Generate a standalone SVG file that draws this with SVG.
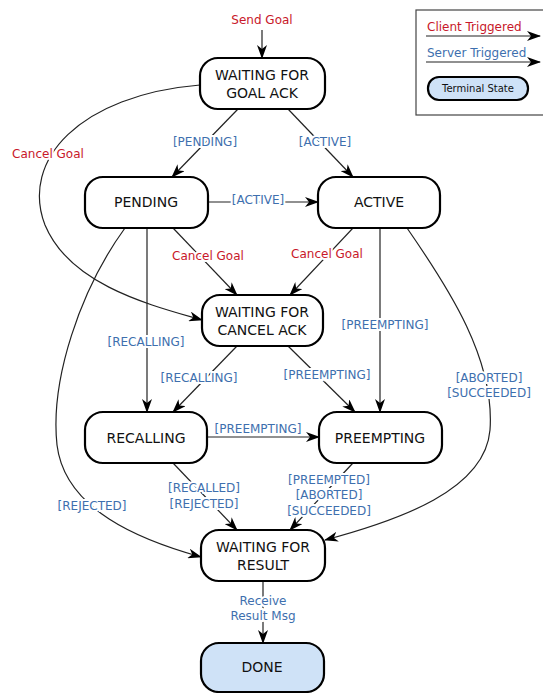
<svg xmlns="http://www.w3.org/2000/svg" width="543" height="693" viewBox="0 0 543 693">
<style>
.node{fill:#fff;stroke:#000;stroke-width:2.2}
.term{fill:#cfe2f7;stroke:#000;stroke-width:2.2}
.nt{font-family:"DejaVu Sans",sans-serif;font-size:14px;fill:#111;text-anchor:middle}
.e{fill:none;stroke:#222;stroke-width:1.2;marker-end:url(#ah)}
.cl{font-family:"DejaVu Sans",sans-serif;font-size:12px;fill:#c8182a;text-anchor:middle;stroke:#fff;stroke-width:4;paint-order:stroke}
.sl{font-family:"DejaVu Sans",sans-serif;font-size:12px;fill:#3e6fae;text-anchor:middle;stroke:#fff;stroke-width:4;paint-order:stroke}
</style>
<defs>
<marker id="ah" viewBox="0 0 14 10" refX="13" refY="5" markerWidth="14" markerHeight="10" markerUnits="userSpaceOnUse" orient="auto">
<path d="M0,0 L14,5 L0,10 L4,5 z" fill="#000"/>
</marker>
</defs>
<rect width="543" height="693" fill="#fff"/>
<g id="legend">
<rect x="416" y="10" width="140" height="105" fill="#fff" stroke="#444" stroke-width="1.2"/>
<text x="427" y="31" font-family="DejaVu Sans,sans-serif" font-size="12" fill="#c8182a">Client Triggered</text>
<line x1="426" y1="36" x2="540" y2="36" class="e"/>
<text x="427" y="57" font-family="DejaVu Sans,sans-serif" font-size="12" fill="#3e6fae">Server Triggered</text>
<line x1="426" y1="62" x2="540" y2="62" class="e"/>
<rect x="428" y="77" width="100" height="23" rx="11" class="term" stroke-width="1.2"/>
<text x="478" y="92" font-family="DejaVu Sans,sans-serif" font-size="10" fill="#111" text-anchor="middle">Terminal State</text>
</g>
<g id="connectors">
<line x1="262" y1="30" x2="262" y2="58" class="e"/>
<line x1="238" y1="109" x2="172" y2="177" class="e"/>
<line x1="288" y1="109" x2="353" y2="177" class="e"/>
<line x1="208" y1="202" x2="318" y2="202" class="e"/>
<path d="M200,85 C80,95 20,160 45,225 C70,285 150,305 202,320" class="e"/>
<line x1="173" y1="228" x2="237" y2="295" class="e"/>
<line x1="353" y1="228" x2="290" y2="295" class="e"/>
<line x1="147" y1="228" x2="147" y2="412" class="e"/>
<line x1="237" y1="346" x2="173" y2="412" class="e"/>
<line x1="380" y1="228" x2="380" y2="412" class="e"/>
<line x1="288" y1="346" x2="355" y2="412" class="e"/>
<line x1="207" y1="437" x2="319" y2="437" class="e"/>
<path d="M407,228 C450,290 495,360 490,430 C485,490 400,520 325,540" class="e"/>
<path d="M125,228 C80,290 50,380 57,445 C65,510 140,540 201,557" class="e"/>
<line x1="173" y1="463" x2="237" y2="530" class="e"/>
<line x1="353" y1="463" x2="290" y2="530" class="e"/>
<line x1="263" y1="581" x2="263" y2="643" class="e"/>
<text x="262" y="24" class="cl">Send Goal</text>
<text x="205" y="146" class="sl">[PENDING]</text>
<text x="325" y="146" class="sl">[ACTIVE]</text>
<text x="258" y="204" class="sl">[ACTIVE]</text>
<text x="48" y="158" class="cl">Cancel Goal</text>
<text x="208" y="260" class="cl">Cancel Goal</text>
<text x="327" y="258" class="cl">Cancel Goal</text>
<text x="146" y="346" class="sl">[RECALLING]</text>
<text x="199" y="382" class="sl">[RECALLING]</text>
<text x="385" y="329" class="sl">[PREEMPTING]</text>
<text x="327" y="379" class="sl">[PREEMPTING]</text>
<text x="258" y="433" class="sl">[PREEMPTING]</text>
<text x="489" y="382" class="sl">[ABORTED]</text>
<text x="489" y="397" class="sl">[SUCCEEDED]</text>
<text x="92" y="510" class="sl">[REJECTED]</text>
<text x="204" y="492" class="sl">[RECALLED]</text>
<text x="204" y="508" class="sl">[REJECTED]</text>
<text x="329" y="484" class="sl">[PREEMPTED]</text>
<text x="329" y="499" class="sl">[ABORTED]</text>
<text x="329" y="515" class="sl">[SUCCEEDED]</text>
<text x="263" y="605" class="sl">Receive</text>
<text x="263" y="620" class="sl">Result Msg</text>
</g>
<g id="waiting_goal_ack">
<rect x="200" y="58" width="125" height="51" rx="18" class="node"/>
<text x="262" y="80" class="nt">WAITING FOR</text>
<text x="262" y="98" class="nt">GOAL ACK</text>
</g>
<g id="pending">
<rect x="85" y="177" width="123" height="51" rx="18" class="node"/>
<text x="146" y="207" class="nt">PENDING</text>
</g>
<g id="active">
<rect x="318" y="177" width="122" height="51" rx="18" class="node"/>
<text x="379" y="207" class="nt">ACTIVE</text>
</g>
<g id="waiting_cancel_ack">
<rect x="202" y="295" width="121" height="51" rx="18" class="node"/>
<text x="262" y="317" class="nt">WAITING FOR</text>
<text x="262" y="335" class="nt">CANCEL ACK</text>
</g>
<g id="recalling">
<rect x="85" y="412" width="122" height="51" rx="18" class="node"/>
<text x="146" y="443" class="nt">RECALLING</text>
</g>
<g id="preempting">
<rect x="319" y="412" width="123" height="51" rx="18" class="node"/>
<text x="380" y="443" class="nt">PREEMPTING</text>
</g>
<g id="waiting_result">
<rect x="201" y="530" width="124" height="51" rx="18" class="node"/>
<text x="263" y="552" class="nt">WAITING FOR</text>
<text x="263" y="570" class="nt">RESULT</text>
</g>
<g id="done">
<rect x="201" y="643" width="123" height="49" rx="18" class="term"/>
<text x="262" y="672" class="nt">DONE</text>
</g>
</svg>
